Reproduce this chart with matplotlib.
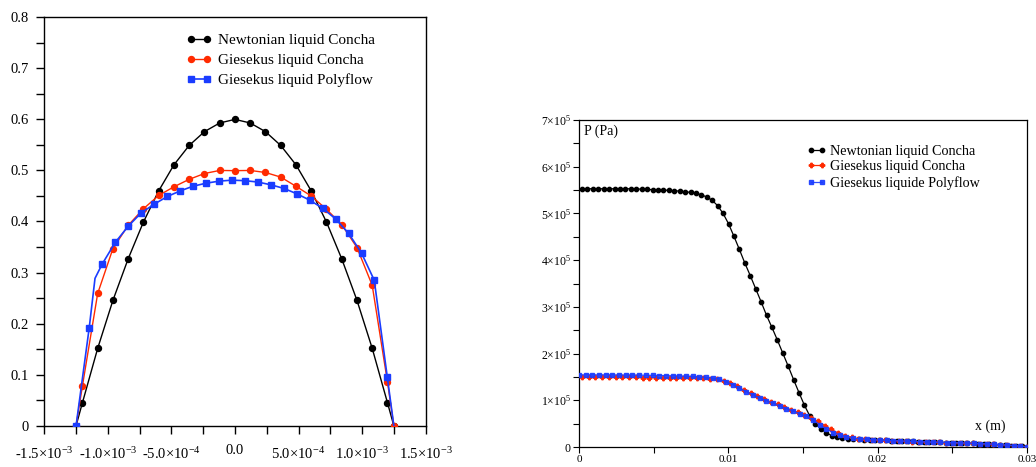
import numpy as np
import matplotlib
matplotlib.use("Agg")
import matplotlib.pyplot as plt
from matplotlib.ticker import MultipleLocator, FixedLocator

plt.rcParams['font.family'] = ['Liberation Serif', 'DejaVu Serif']
plt.rcParams['mathtext.fontset'] = 'custom'
plt.rcParams['mathtext.rm'] = 'Liberation Serif'
plt.rcParams['mathtext.it'] = 'Liberation Serif:italic'

# ---------------- Left panel data (velocity profile) ----------------
left_x_conc = [-1.25e-3, -1.2e-3, -1.08e-3, -0.96e-3, -0.84e-3, -0.72e-3, -0.60e-3, -0.48e-3,
               -0.36e-3, -0.24e-3, -0.12e-3, 0.0, 0.12e-3, 0.24e-3, 0.36e-3, 0.48e-3, 0.60e-3,
               0.72e-3, 0.84e-3, 0.96e-3, 1.08e-3, 1.2e-3, 1.25e-3]
newt_left = [0.0, 0.045, 0.1515, 0.2456, 0.327, 0.399, 0.460, 0.511, 0.549, 0.576, 0.593, 0.600,
             0.593, 0.576, 0.549, 0.511, 0.460, 0.399, 0.327, 0.2456, 0.1515, 0.045, 0.0]
gies_conc_left = [0.0, 0.078, 0.259, 0.347, 0.3925, 0.425, 0.451, 0.468, 0.4826, 0.494, 0.500, 0.4996,
                  0.500, 0.496, 0.487, 0.469, 0.450, 0.424, 0.394, 0.349, 0.275, 0.0856, 0.0]
left_x_poly = [-1.25e-3, -1.147e-3, -1.101e-3, -1.046e-3, -0.942e-3, -0.839e-3, -0.737e-3, -0.635e-3,
               -0.532e-3, -0.430e-3, -0.331e-3, -0.228e-3, -0.126e-3, -0.025e-3, 0.076e-3, 0.178e-3,
               0.280e-3, 0.383e-3, 0.485e-3, 0.587e-3, 0.690e-3, 0.792e-3, 0.894e-3, 0.996e-3,
               1.096e-3, 1.199e-3, 1.25e-3]
gies_poly_left = [0.0, 0.191, 0.2887, 0.316, 0.359, 0.391, 0.417, 0.434, 0.449, 0.460, 0.469, 0.475,
                  0.479, 0.481, 0.480, 0.4774, 0.472, 0.465, 0.4545, 0.442, 0.426, 0.405, 0.377,
                  0.338, 0.285, 0.0947, 0.0]
poly_left_marked = [i for i in range(len(left_x_poly)) if i not in (2, len(left_x_poly) - 1)]

left_xticks = [-1.5e-3, -1.0e-3, -5.0e-4, 0.0, 5.0e-4, 1.0e-3, 1.5e-3]
left_xticklabels = [r'-1.5$\times$10$^{-3}$', r'-1.0$\times$10$^{-3}$', r'-5.0$\times$10$^{-4}$', '0.0',
                    r'5.0$\times$10$^{-4}$', r'1.0$\times$10$^{-3}$', r'1.5$\times$10$^{-3}$']
left_yticks = [0, 0.1, 0.2, 0.3, 0.4, 0.5, 0.6, 0.7, 0.8]
left_yticklabels = ['0', '0.1', '0.2', '0.3', '0.4', '0.5', '0.6', '0.7', '0.8']

# ---------------- Right panel data (pressure along x) ----------------
newt_p = [5.528, 5.528, 5.528, 5.528, 5.528, 5.528, 5.528, 5.528, 5.528, 5.528,
          5.521, 5.521, 5.514, 5.507, 5.50, 5.50, 5.493, 5.485, 5.478, 5.464,
          5.45, 5.428, 5.40, 5.35, 5.28, 5.165, 5.00, 4.78, 4.51, 4.23,
          3.94, 3.67, 3.39, 3.11, 2.82, 2.56, 2.29, 2.01, 1.73, 1.44,
          1.16, 0.89, 0.66, 0.50, 0.386, 0.307, 0.243, 0.207, 0.186, 0.175,
          0.168, 0.162, 0.157, 0.152, 0.148, 0.144, 0.140, 0.136, 0.132, 0.128,
          0.124, 0.120, 0.116, 0.112, 0.108, 0.104, 0.100, 0.096, 0.092, 0.088,
          0.084, 0.080, 0.075, 0.070, 0.065, 0.060, 0.054, 0.047, 0.040, 0.032,
          0.023, 0.013, 0.0]
newt_x = np.linspace(0.0002, 0.03, len(newt_p))

gies_conc_p = [1.49, 1.49, 1.49, 1.49, 1.49, 1.49, 1.49, 1.49, 1.49, 1.485,
               1.485, 1.485, 1.485, 1.485, 1.48, 1.48, 1.48, 1.475, 1.47, 1.46,
               1.445, 1.42, 1.37, 1.30, 1.22, 1.15, 1.085, 1.025, 0.965, 0.91,
               0.855, 0.80, 0.745, 0.69, 0.625, 0.55, 0.46, 0.375, 0.30, 0.245,
               0.205, 0.18, 0.165, 0.155, 0.148, 0.142, 0.135, 0.129, 0.123, 0.117,
               0.112, 0.107, 0.103, 0.099, 0.095, 0.091, 0.087, 0.083, 0.078, 0.072,
               0.066, 0.059, 0.051, 0.042, 0.032, 0.02, 0.006]
gies_conc_x = np.linspace(0.0002, 0.03, len(gies_conc_p))

gies_poly_p = [1.543, 1.543, 1.543, 1.543, 1.543, 1.543, 1.54, 1.54, 1.54, 1.538,
               1.535, 1.533, 1.53, 1.527, 1.523, 1.52, 1.515, 1.51, 1.50, 1.49,
               1.475, 1.455, 1.40, 1.33, 1.26, 1.185, 1.12, 1.05, 0.99, 0.935,
               0.875, 0.82, 0.77, 0.71, 0.655, 0.58, 0.48, 0.385, 0.31, 0.255,
               0.215, 0.19, 0.175, 0.165, 0.157, 0.150, 0.143, 0.136, 0.13, 0.124,
               0.118, 0.113, 0.108, 0.104, 0.1, 0.096, 0.092, 0.088, 0.083, 0.078,
               0.072, 0.066, 0.058, 0.05, 0.04, 0.03, 0.017, 0.005]
gies_poly_x = np.linspace(0.0, 0.03, len(gies_poly_p))

right_xticks = [0, 0.01, 0.02, 0.03]
right_xticklabels = ['0', '0.01', '0.02', '0.03']
right_yticks = [0, 1, 2, 3, 4, 5, 6, 7]
right_yticklabels = ['0'] + [r'%d$\times$10$^{5}$' % k for k in range(1, 8)]

BLACK = '#000000'
RED = '#ff2a00'
BLUE = '#1a3cff'

fig = plt.figure(figsize=(10.36, 4.67), dpi=100)

# ---------------- Left axes ----------------
axL = fig.add_axes([44.3 / 1036, (467 - 425.7) / 467, 381.3 / 1036, 408.4 / 467])
axL.plot(left_x_conc, newt_left, '-o', color=BLACK, lw=1.0, ms=4.3, label='Newtonian liquid Concha', zorder=3)
axL.plot(left_x_conc, gies_conc_left, '-o', color=RED, lw=1.0, ms=4.3, label='Giesekus liquid Concha', zorder=4)
axL.plot(left_x_poly, gies_poly_left, '-s', color=BLUE, lw=1.2, ms=4.0, markevery=poly_left_marked,
         label='Giesekus liquid Polyflow', zorder=5)
axL.set_xlim(-1.5e-3, 1.5e-3)
axL.set_ylim(0, 0.8)
axL.xaxis.set_major_locator(FixedLocator(left_xticks))
axL.set_xticklabels(left_xticklabels)
axL.xaxis.set_minor_locator(MultipleLocator(2.5e-4))
axL.yaxis.set_major_locator(FixedLocator(left_yticks))
axL.set_yticklabels(left_yticklabels)
axL.yaxis.set_minor_locator(MultipleLocator(0.05))
axL.tick_params(which='both', direction='out', top=False, right=False, labelsize=10.5, width=1.0)
axL.tick_params(which='major', length=6, pad=5)
axL.tick_params(which='minor', length=6)
for i, t in enumerate(axL.xaxis.get_major_ticks()):
    t.set_pad(7 if left_xticklabels[i] == '0.0' else 9)
for s in axL.spines.values():
    s.set_linewidth(1.0)
legL = axL.legend(loc='upper left', bbox_to_anchor=(0.372, 0.96), frameon=False, fontsize=11,
                  numpoints=2, handlelength=1.65, handletextpad=0.45, labelspacing=0.4,
                  borderpad=0, borderaxespad=0)

# ---------------- Right axes ----------------
axR = fig.add_axes([579 / 1036, (467 - 447) / 467, 448 / 1036, 327 / 467])
axR.plot(newt_x, np.array(newt_p) * 1e5, '-o', color=BLACK, lw=0.9, ms=3.1, label='Newtonian liquid Concha', zorder=3)
axR.plot(gies_conc_x, np.array(gies_conc_p) * 1e5, '-P', color=RED, lw=0.9, ms=3.2, label='Giesekus liquid Concha', zorder=4)
axR.plot(gies_poly_x, np.array(gies_poly_p) * 1e5, '-s', color=BLUE, lw=0.9, ms=3.0, alpha=0.9,
         label='Giesekus liquide Polyflow', zorder=5)
axR.set_xlim(0, 0.03)
axR.set_ylim(0, 7e5)
axR.xaxis.set_major_locator(FixedLocator(right_xticks))
axR.set_xticklabels(right_xticklabels)
axR.xaxis.set_minor_locator(MultipleLocator(0.005))
axR.yaxis.set_major_locator(FixedLocator([v * 1e5 for v in right_yticks]))
axR.set_yticklabels(right_yticklabels)
axR.yaxis.set_minor_locator(MultipleLocator(0.5e5))
axR.tick_params(which='both', direction='out', top=False, right=False, labelsize=8.5, width=0.8)
axR.tick_params(which='major', length=4, pad=2)
axR.tick_params(which='minor', length=4)
axR.tick_params(axis='x', which='major', labelsize=8, pad=2)
for s in axR.spines.values():
    s.set_linewidth(0.9)
axR.text(0.012, 0.985, 'P (Pa)', transform=axR.transAxes, fontsize=10, ha='left', va='top')
axR.text(0.953, 0.064, 'x (m)', transform=axR.transAxes, fontsize=10, ha='right', va='center')
legR = axR.legend(loc='upper left', bbox_to_anchor=(0.508, 0.925), frameon=False, fontsize=10.2,
                  numpoints=2, handlelength=1.4, handletextpad=0.25, labelspacing=0.2,
                  borderpad=0, borderaxespad=0)

fig.savefig('out.png', dpi=100)
